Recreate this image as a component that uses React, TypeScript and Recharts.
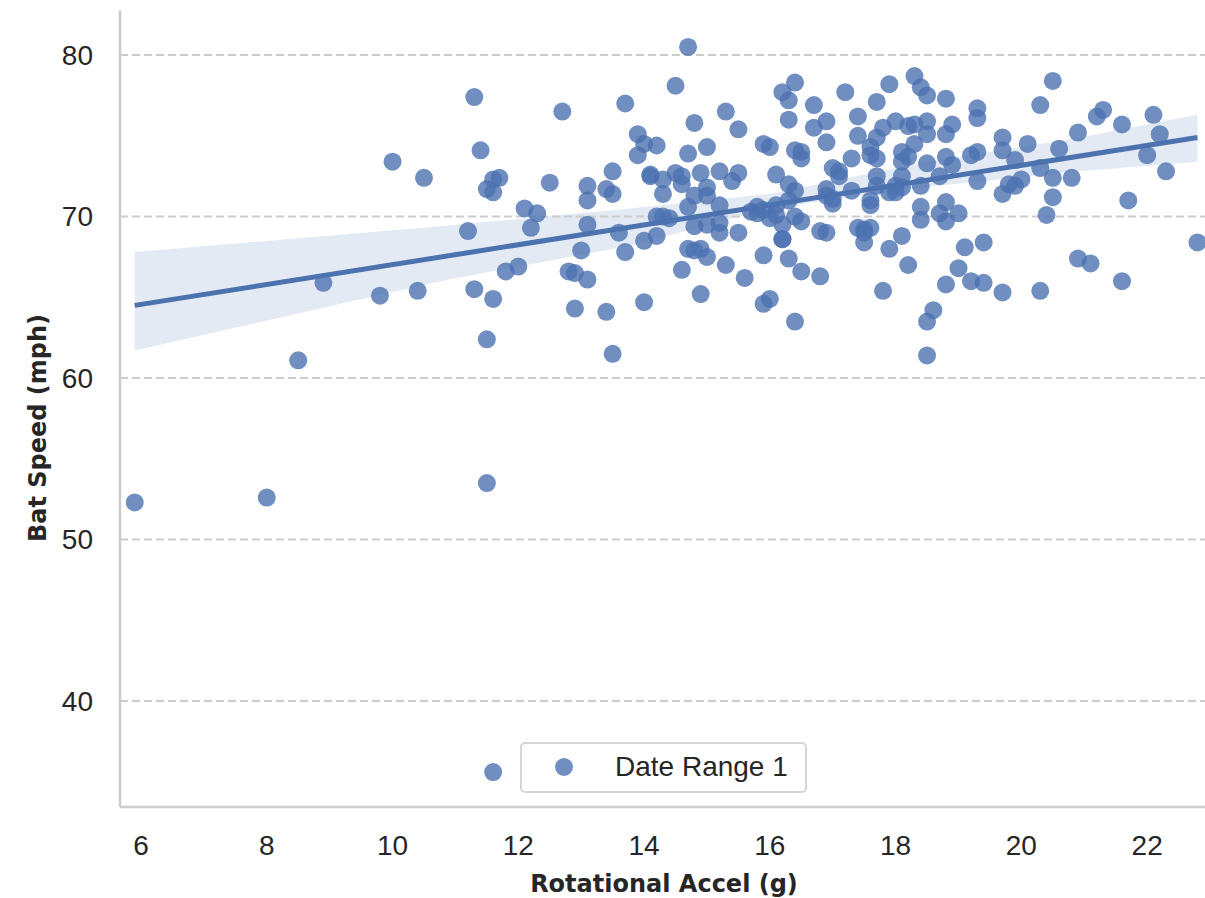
import React from 'react';
import {
  ComposedChart,
  Scatter,
  Line,
  Area,
  XAxis,
  YAxis,
  ReferenceLine,
  Legend,
  Label,
} from 'recharts';

// swing samples: rotational acceleration (g) vs bat speed (mph)
const accelX = [
  5.9, 8.0, 11.5, 11.6, 8.5, 8.9, 9.8, 10.0, 10.4, 10.5, 11.2, 11.3, 11.3, 11.4, 11.5, 11.6,
  11.6, 11.7, 11.5, 11.6, 11.8, 12.0, 12.1, 12.2, 12.3, 12.5, 12.7, 12.8, 12.9, 12.9, 13.0, 13.1,
  13.1, 13.1, 13.1, 13.4, 13.4, 13.5, 13.5, 13.5, 13.6, 13.7, 13.7, 13.9, 13.9, 14.0, 14.0, 14.0,
  14.1, 14.1, 14.2, 14.2, 14.2, 14.3, 14.3, 14.3, 14.4, 14.5, 14.5, 14.6, 14.6, 14.6, 14.7, 14.7,
  14.7, 14.7, 14.8, 14.8, 14.8, 14.8, 14.9, 14.9, 14.9, 15.0, 15.0, 15.0, 15.0, 15.0, 15.2, 15.2,
  15.2, 15.2, 15.3, 15.3, 15.4, 15.5, 15.5, 15.5, 15.6, 15.7, 15.8, 15.8, 15.9, 15.9, 15.9, 15.9,
  16.0, 16.0, 16.0, 16.1, 16.1, 16.1, 16.2, 16.2, 16.2, 16.2, 16.3, 16.3, 16.3, 16.3, 16.3, 16.4,
  16.4, 16.4, 16.4, 16.4, 16.5, 16.5, 16.5, 16.5, 16.7, 16.7, 16.8, 16.8, 16.9, 16.9, 16.9, 16.9,
  16.9, 17.0, 17.0, 17.0, 17.1, 17.1, 17.2, 17.3, 17.3, 17.4, 17.4, 17.4, 17.5, 17.5, 17.5, 17.6,
  17.6, 17.6, 17.6, 17.6, 17.7, 17.7, 17.7, 17.7, 17.7, 17.8, 17.8, 17.9, 17.9, 17.9, 18.0, 18.0,
  18.0, 18.1, 18.1, 18.1, 18.1, 18.1, 18.2, 18.2, 18.2, 18.3, 18.3, 18.3, 18.4, 18.4, 18.4, 18.4,
  18.5, 18.5, 18.5, 18.5, 18.5, 18.5, 18.6, 18.7, 18.7, 18.8, 18.8, 18.8, 18.8, 18.8, 18.8, 18.9,
  18.9, 19.0, 19.0, 19.1, 19.2, 19.2, 19.3, 19.3, 19.3, 19.3, 19.4, 19.4, 19.7, 19.7, 19.7, 19.7,
  19.8, 19.9, 19.9, 20.0, 20.1, 20.3, 20.3, 20.3, 20.4, 20.5, 20.5, 20.5, 20.6, 20.8, 20.9, 20.9,
  21.1, 21.2, 21.3, 21.6, 21.6, 21.7, 22.0, 22.1, 22.2, 22.3, 22.8,
];
const batSpeed = [
  52.3, 52.6, 53.5, 35.6, 61.1, 65.9, 65.1, 73.4, 65.4, 72.4, 69.1, 77.4, 65.5, 74.1, 71.7, 72.3,
  71.5, 72.4, 62.4, 64.9, 66.6, 66.9, 70.5, 69.3, 70.2, 72.1, 76.5, 66.6, 66.5, 64.3, 67.9, 71.9,
  71.0, 69.5, 66.1, 64.1, 71.7, 72.8, 71.4, 61.5, 69.0, 77.0, 67.8, 75.1, 73.8, 74.5, 68.5, 64.7,
  72.6, 72.5, 74.4, 70.0, 68.8, 71.4, 70.0, 72.3, 69.9, 78.1, 72.7, 72.5, 72.0, 66.7, 80.5, 73.9,
  70.6, 68.0, 75.8, 71.3, 69.4, 67.9, 72.7, 68.0, 65.2, 74.3, 71.8, 71.3, 69.5, 67.5, 72.8, 70.7,
  69.6, 69.0, 76.5, 67.0, 72.2, 75.4, 72.7, 69.0, 66.2, 70.3, 70.6, 70.2, 74.5, 70.4, 67.6, 64.6,
  74.3, 69.9, 64.9, 72.6, 70.7, 70.1, 77.7, 69.5, 68.6, 68.6, 77.2, 76.0, 72.0, 71.0, 67.4, 78.3,
  74.1, 71.6, 70.0, 63.5, 74.0, 73.6, 69.7, 66.6, 76.9, 75.5, 69.1, 66.3, 75.9, 74.6, 71.7, 71.3,
  69.0, 73.0, 71.1, 70.8, 72.8, 72.5, 77.7, 73.6, 71.6, 76.2, 75.0, 69.3, 69.0, 68.4, 69.2, 74.3,
  73.8, 71.0, 70.7, 69.3, 77.1, 74.9, 73.6, 72.5, 71.9, 75.5, 65.4, 78.2, 71.5, 68.0, 75.9, 71.9,
  71.5, 74.0, 73.4, 72.5, 71.8, 68.8, 75.6, 73.7, 67.0, 78.7, 75.7, 74.5, 78.0, 71.9, 70.6, 69.8,
  77.5, 75.9, 75.1, 73.3, 63.5, 61.4, 64.2, 72.5, 70.2, 77.3, 75.1, 73.7, 70.9, 69.7, 65.8, 75.7,
  73.2, 70.2, 66.8, 68.1, 73.8, 66.0, 76.7, 76.1, 74.0, 72.2, 68.4, 65.9, 74.9, 74.1, 71.4, 65.3,
  72.0, 73.5, 71.9, 72.3, 74.5, 76.9, 73.0, 65.4, 70.1, 78.4, 72.4, 71.2, 74.2, 72.4, 75.2, 67.4,
  67.1, 76.2, 76.6, 75.7, 66.0, 71.0, 73.8, 76.3, 75.1, 72.8, 68.4,
];

// regression fit and its confidence band
const bandX = [5.9, 10.76, 13.78, 16.0, 18.39, 20.93, 22.8];
const bandLow = [61.7, 66.0, 68.2, 70.5, 71.8, 72.8, 73.4];
const bandHigh = [67.8, 69.4, 70.5, 71.4, 73.3, 74.9, 76.3];
const fitX = [5.9, 22.8];
const fitY = [64.5, 74.9];

const xTicks = [6, 8, 10, 12, 14, 16, 18, 20, 22];
const yTicks = [40, 50, 60, 70, 80];

const BLUE = '#4C72B0';
const TICK_FONT = { fontFamily: '"Liberation Sans", Arial, sans-serif', fontSize: 28, fill: '#262626' };
const LABEL_FONT = { fontFamily: '"DejaVu Sans", sans-serif', fontWeight: 700, fontSize: 24, fill: '#262626' };

const points = accelX.map((x, i) => ({ x, y: batSpeed[i] }));
const rows = bandX.map((x, i) => {
  const j = fitX.indexOf(x);
  return { x, band: [bandLow[i], bandHigh[i]], fit: j >= 0 ? fitY[j] : null };
});

const Dot = (props: any) => {
  const { cx, cy } = props;
  if (cx == null || cy == null) return null;
  return <circle cx={cx} cy={cy} r={9} fill={BLUE} fillOpacity={0.8} />;
};

const LegendBox = () => (
  <div
    style={{
      boxSizing: 'border-box',
      width: 287,
      height: 51,
      border: '2px solid #d6d6d6',
      borderRadius: 5,
      background: 'rgba(255,255,255,0.8)',
      position: 'relative',
      fontFamily: TICK_FONT.fontFamily,
      fontSize: 28,
      color: '#262626',
    }}
  >
    <svg width={24} height={24} style={{ position: 'absolute', left: 30, top: 11 }}>
      <circle cx={12} cy={12} r={9} fill={BLUE} fillOpacity={0.8} />
    </svg>
    <span style={{ position: 'absolute', left: 93, top: 6, lineHeight: '34px', whiteSpace: 'nowrap' }}>
      Date Range 1
    </span>
  </div>
);

const App: React.FC = () => {
  return (
    <div style={{ position: 'absolute', left: 0, top: 0, width: 1205, height: 898, background: '#fff' }}>
      <ComposedChart
        width={1205}
        height={898}
        data={rows}
        margin={{ top: 10, right: 0, bottom: 0, left: 0 }}
      >
        {yTicks.map((t) => (
          <ReferenceLine
            key={t}
            y={t}
            stroke="#cccccc"
            strokeWidth={2}
            strokeDasharray="8 4"
          />
        ))}
        <XAxis
          type="number"
          dataKey="x"
          domain={[5.666, 22.92]}
          ticks={xTicks}
          allowDataOverflow
          height={91}
          tickLine={false}
          tickSize={0}
          tickMargin={28}
          axisLine={{ stroke: '#cccccc', strokeWidth: 2.5 }}
          tick={TICK_FONT}
        >
          <Label
            content={() => (
              <text x={664} y={892} textAnchor="middle" style={LABEL_FONT}>
                Rotational Accel (g)
              </text>
            )}
          />
        </XAxis>
        <YAxis
          type="number"
          dataKey="y"
          domain={[33.44, 82.79]}
          ticks={yTicks}
          allowDataOverflow
          width={120}
          tickLine={false}
          tickSize={0}
          tickMargin={27}
          axisLine={{ stroke: '#cccccc', strokeWidth: 2.5 }}
          tick={TICK_FONT}
        >
          <Label
            content={() => (
              <text
                x={38}
                y={428}
                transform="rotate(-90 38 428)"
                textAnchor="middle"
                dominantBaseline="central"
                style={LABEL_FONT}
              >
                Bat Speed (mph)
              </text>
            )}
          />
        </YAxis>
        <Scatter
          name="Date Range 1"
          data={points}
          dataKey="y"
          shape={Dot}
          isAnimationActive={false}
        />
        <Area
          type="linear"
          dataKey="band"
          stroke="none"
          fill={BLUE}
          fillOpacity={0.15}
          isAnimationActive={false}
          legendType="none"
        />
        <Line
          type="linear"
          dataKey="fit"
          stroke={BLUE}
          strokeWidth={5}
          dot={false}
          connectNulls
          isAnimationActive={false}
          legendType="none"
        />
        <Legend
          layout="horizontal"
          verticalAlign="middle"
          align="center"
          content={() => <LegendBox />}
          wrapperStyle={{ position: 'absolute', left: 520, top: 742, width: 287, height: 51 }}
        />
      </ComposedChart>
    </div>
  );
};

export default App;
